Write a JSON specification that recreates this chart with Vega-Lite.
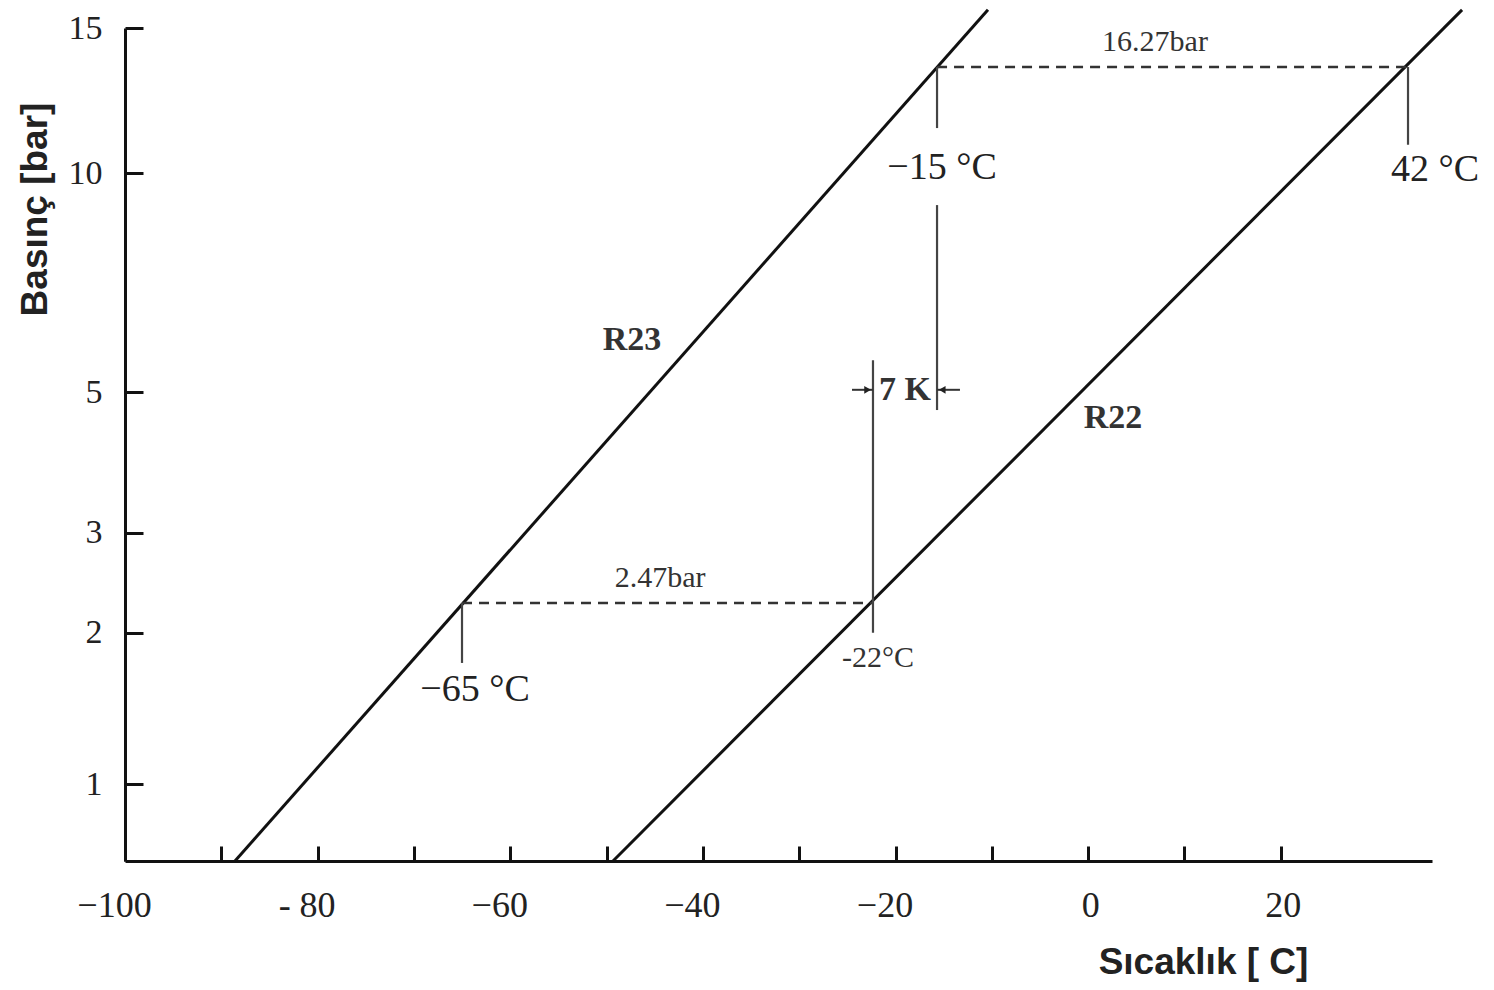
{
  "$schema": "https://vega.github.io/schema/vega-lite/v6.json",
  "width": 1307,
  "height": 833,
  "autosize": {"type": "none"},
  "padding": {"left": 125, "top": 28, "right": 62, "bottom": 129},
  "background": "white",
  "config": {
    "view": {"stroke": null},
    "axisX": {
      "domainColor": "#111", "domainWidth": 3, "tickColor": "#111", "tickWidth": 3, "tickSize": -15,
      "labelFont": "Liberation Serif", "labelFontSize": 36, "labelColor": "#222", "labelPadding": 59,
      "labelBaseline": "middle", "labelFlush": false, "labelOverlap": false, "grid": false,
      "titleFont": "Liberation Sans", "titleFontSize": 37, "titleFontWeight": "bold", "titleColor": "#222",
      "titleX": 1078, "titleY": 101, "titleAlign": "center", "titleBaseline": "middle", "titleAnchor": null
    },
    "axisY": {
      "domainColor": "#111", "domainWidth": 3, "tickColor": "#111", "tickWidth": 3, "tickSize": -18,
      "labelFont": "Liberation Serif", "labelFontSize": 34, "labelColor": "#222", "labelPadding": 41,
      "labelBaseline": "middle", "labelFlush": false, "labelOverlap": false, "grid": false,
      "titleFont": "Liberation Sans", "titleFontSize": 37, "titleFontWeight": "bold", "titleColor": "#222",
      "titleX": -90, "titleY": 181, "titleAlign": "center", "titleBaseline": "middle", "titleAngle": -90
    }
  },
  "datasets": {
    "curves": [
      {"ref": "R23", "t": -88.58, "p": 0.67},
      {"ref": "R23", "t": -10.4, "p": 15.74},
      {"ref": "R22", "t": -49.33, "p": 0.67},
      {"ref": "R22", "t": 38.82, "p": 15.74}
    ],
    "dashed": [
      {"t": -15.69, "t2": 33.21, "p": 13.5},
      {"t": -65.01, "t2": -22.34, "p": 2.265}
    ],
    "verticals": [
      {"t": -15.69, "p": 13.5, "p2": 11.39},
      {"t": -15.69, "p": 9.1, "p2": 4.7},
      {"t": -22.34, "p": 5.57, "p2": 2.0},
      {"t": -65.01, "p": 2.265, "p2": 1.757},
      {"t": 33.21, "p": 13.5, "p2": 10.86}
    ],
    "shafts": [
      {"t": -24.52, "t2": -22.34, "p": 5.04},
      {"t": -15.69, "t2": -13.31, "p": 5.04}
    ],
    "headRight": [{"t": -22.9, "p": 5.04}],
    "headLeft": [{"t": -15.15, "p": 5.04}],
    "bigLabels": [
      {"label": "−15 °C", "t": -15.17, "p": 10.16},
      {"label": "42 °C", "t": 36.01, "p": 10.1},
      {"label": "−65 °C", "t": -63.66, "p": 1.559}
    ],
    "smallLabels": [
      {"label": "16.27bar", "t": 6.94, "p": 14.45},
      {"label": "2.47bar", "t": -44.45, "p": 2.508},
      {"label": "-22°C", "t": -21.82, "p": 1.796}
    ],
    "boldLabels": [
      {"label": "R23", "t": -47.36, "p": 5.96},
      {"label": "R22", "t": 2.58, "p": 4.57},
      {"label": "7 K", "t": -19.02, "p": 5.04}
    ]
  },
  "encoding": {
    "x": {
      "field": "t", "type": "quantitative",
      "scale": {"domain": [-100, 35.7], "nice": false, "zero": false},
      "axis": {
        "title": "Sıcaklık [ C]",
        "values": [-100, -90, -80, -70, -60, -50, -40, -30, -20, -10, 0, 10, 20],
        "labelExpr": "datum.value % 20 != 0 ? '' : (datum.value == -80 ? '- 80' : datum.label)",
        "labelOffset": {"condition": {"test": "datum.value < 0", "value": -11}, "value": 2}
      }
    },
    "y": {
      "field": "p", "type": "quantitative",
      "scale": {"type": "pow", "exponent": 0.23, "domain": [0.67, 15], "nice": false, "zero": false},
      "axis": {"title": "Basınç [bar]", "values": [1, 2, 3, 5, 10, 15]}
    }
  },
  "layer": [
    {
      "data": {"name": "curves"},
      "mark": {"type": "line", "color": "#111", "strokeWidth": 3, "clip": false},
      "encoding": {"detail": {"field": "ref"}}
    },
    {
      "data": {"name": "dashed"},
      "mark": {"type": "rule", "color": "#333", "strokeWidth": 2.5, "strokeDash": [10, 7], "clip": false},
      "encoding": {"x2": {"field": "t2"}}
    },
    {
      "data": {"name": "verticals"},
      "mark": {"type": "rule", "color": "#444", "strokeWidth": 2.2, "clip": false},
      "encoding": {"y2": {"field": "p2"}}
    },
    {
      "data": {"name": "shafts"},
      "mark": {"type": "rule", "color": "#333", "strokeWidth": 2, "clip": false},
      "encoding": {"x2": {"field": "t2"}}
    },
    {
      "data": {"name": "headRight"},
      "mark": {"type": "point", "shape": "triangle-right", "filled": true, "color": "#222", "size": 60, "opacity": 1, "clip": false}
    },
    {
      "data": {"name": "headLeft"},
      "mark": {"type": "point", "shape": "triangle-left", "filled": true, "color": "#222", "size": 60, "opacity": 1, "clip": false}
    },
    {
      "data": {"name": "bigLabels"},
      "mark": {"type": "text", "font": "Liberation Serif", "fontSize": 38, "color": "#222", "align": "center", "baseline": "middle", "clip": false},
      "encoding": {"text": {"field": "label"}}
    },
    {
      "data": {"name": "smallLabels"},
      "mark": {"type": "text", "font": "Liberation Serif", "fontSize": 30, "color": "#333", "align": "center", "baseline": "middle", "letterSpacing": -1, "clip": false},
      "encoding": {"text": {"field": "label"}}
    },
    {
      "data": {"name": "boldLabels"},
      "mark": {"type": "text", "font": "Liberation Serif", "fontSize": 34, "fontWeight": "bold", "color": "#333", "align": "center", "baseline": "middle", "clip": false},
      "encoding": {"text": {"field": "label"}}
    }
  ]
}
